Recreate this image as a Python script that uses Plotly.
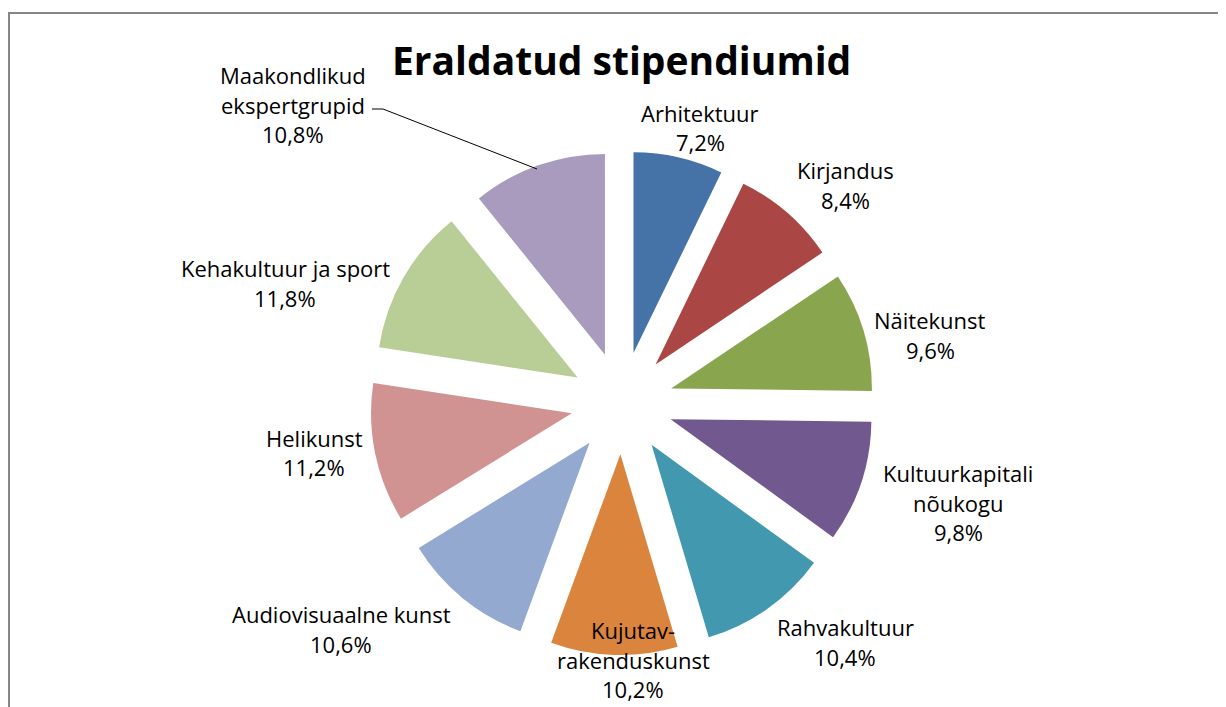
import plotly.graph_objects as go

categories = ["Arhitektuur", "Kirjandus", "Näitekunst", "Kultuurkapitali nõukogu",
              "Rahvakultuur", "Kujutav-rakenduskunst", "Audiovisuaalne kunst",
              "Helikunst", "Kehakultuur ja sport", "Maakondlikud ekspertgrupid"]
values = [7.2, 8.4, 9.6, 9.8, 10.4, 10.2, 10.6, 11.2, 11.8, 10.8]
label_lines = [["Arhitektuur"], ["Kirjandus"], ["Näitekunst"], ["Kultuurkapitali", "nõukogu"],
               ["Rahvakultuur"], ["Kujutav-", "rakenduskunst"], ["Audiovisuaalne kunst"],
               ["Helikunst"], ["Kehakultuur ja sport"], ["Maakondlikud", "ekspertgrupid"]]
colors = ["#4572A7", "#AA4643", "#89A54E", "#71588F", "#4198AF",
          "#DB843D", "#93A9CF", "#D19392", "#B9CD96", "#A99BBD"]

W, H = 1226, 707
OFF = 8  # page body margin
# label anchor positions in pixels: (center x, first line y)
label_pos = [(700, 113), (845, 170), (930, 320), (958, 473), (845, 627),
             (633, 630), (341, 614), (314, 438), (285, 268), (293, 75)]
LINE = 29.5

def px(x):
    return (x - OFF) / W

def py(y):
    return 1 - (y - OFF) / H

cx, cy, R = 622, 403, 252
fig = go.Figure(go.Pie(
    labels=categories, values=values, sort=False, direction="clockwise", rotation=0,
    marker=dict(colors=colors, line=dict(width=0)),
    pull=[0.255] * len(values), textinfo="none", hoverinfo="label+percent",
    domain=dict(x=[px(cx - R), px(cx + R)], y=[py(cy + R), py(cy - R)]),
    showlegend=False,
))

annotations = []
font = dict(family="Open Sans, sans-serif", size=22, color="#000000")
for lines, v, (x, y) in zip(label_lines, values, label_pos):
    all_lines = lines + [f"{v:.1f}".replace(".", ",") + "%"]
    for i, t in enumerate(all_lines):
        annotations.append(dict(x=px(x), y=py(y + i * LINE), xref="paper", yref="paper",
                                text=t, showarrow=False, font=font,
                                xanchor="center", yanchor="middle"))

annotations.append(dict(x=px(622), y=py(60), xref="paper", yref="paper",
                        text="<b>Eraldatud stipendiumid</b>", showarrow=False,
                        font=dict(family="Open Sans, sans-serif", size=39, color="#000000"),
                        xanchor="center", yanchor="middle"))

shapes = [
    dict(type="rect", xref="paper", yref="paper", x0=px(9), x1=px(1250), y0=py(730), y1=py(13),
         line=dict(color="#868686", width=2), fillcolor="rgba(0,0,0,0)"),
    dict(type="path", xref="paper", yref="paper",
         path=f"M {px(372)},{py(109)} L {px(383)},{py(109)} L {px(537)},{py(169)}",
         line=dict(color="#000000", width=1)),
]

fig.update_layout(width=W, height=H, margin=dict(l=0, r=0, t=0, b=0),
                  paper_bgcolor="white", plot_bgcolor="white",
                  annotations=annotations, shapes=shapes)
fig.write_html("out.html")
